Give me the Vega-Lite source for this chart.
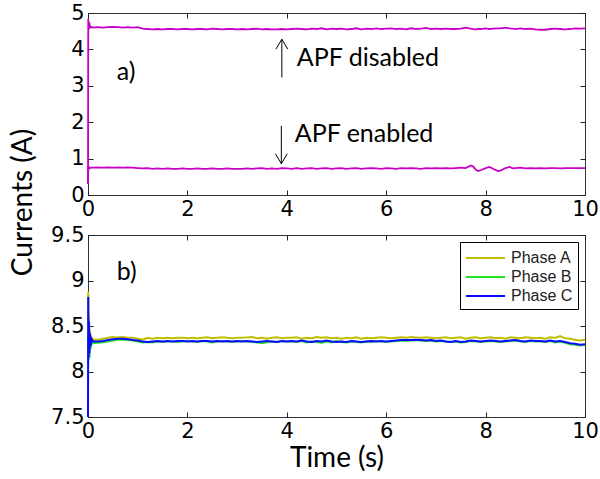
{
  "$schema": "https://vega.github.io/schema/vega-lite/v6.json",
  "padding": {"left": 8, "top": 1, "right": 4, "bottom": 4},
  "background": "white",
  "config": {
    "view": {"stroke": "#333333", "strokeWidth": 1},
    "axis": {
      "grid": false,
      "domain": false,
      "tickColor": "#222222",
      "tickWidth": 1,
      "labelFont": "DejaVu Sans",
      "labelFontSize": 21,
      "labelColor": "#000000",
      "labelPadding": 4,
      "labelFlush": false,
      "titleFont": "Lato",
      "titleFontSize": 28,
      "titleFontWeight": "normal",
      "titleColor": "#000000"
    },
    "legend": {
      "orient": "top-right",
      "offset": 7,
      "padding": 5,
      "strokeColor": "#000000",
      "fillColor": "#ffffff",
      "labelFont": "Liberation Sans",
      "labelFontSize": 16,
      "labelColor": "#222222",
      "symbolType": "M-1,0H2.9",
      "symbolStrokeWidth": 2,
      "symbolSize": 400,
      "rowPadding": 0,
      "labelOffset": 24
    }
  },
  "datasets": {
    "top": [
      {"t":0,"d":0.3,"e":0.3},{"t":0.005,"d":4.85,"e":0.78},{"t":0.015,"d":4.55,"e":0.72},{"t":0.025,"d":4.75,"e":0.76},{"t":0.04,"d":4.6,"e":0.74},{"t":0.06,"d":4.62,"e":0.75},
      {"t":0.1,"d":4.60,"e":0.75},{"t":0.2,"d":4.61,"e":0.76},{"t":0.3,"d":4.60,"e":0.75},{"t":0.4,"d":4.61,"e":0.76},{"t":0.5,"d":4.62,"e":0.75},{"t":0.6,"d":4.61,"e":0.76},{"t":0.7,"d":4.60,"e":0.75},{"t":0.8,"d":4.61,"e":0.76},{"t":0.9,"d":4.60,"e":0.75},{"t":1.0,"d":4.61,"e":0.74},
      {"t":1.1,"d":4.57,"e":0.73},{"t":1.2,"d":4.56,"e":0.74},{"t":1.3,"d":4.55,"e":0.72},{"t":1.4,"d":4.56,"e":0.73},{"t":1.5,"d":4.55,"e":0.72},{"t":1.6,"d":4.56,"e":0.73},{"t":1.7,"d":4.56,"e":0.72},{"t":1.8,"d":4.55,"e":0.72},{"t":1.9,"d":4.56,"e":0.73},{"t":2.0,"d":4.56,"e":0.72},
      {"t":2.1,"d":4.55,"e":0.72},{"t":2.2,"d":4.56,"e":0.73},{"t":2.3,"d":4.56,"e":0.72},{"t":2.4,"d":4.55,"e":0.72},{"t":2.5,"d":4.57,"e":0.73},{"t":2.6,"d":4.56,"e":0.72},{"t":2.7,"d":4.55,"e":0.72},{"t":2.8,"d":4.56,"e":0.73},{"t":2.9,"d":4.56,"e":0.72},{"t":3.0,"d":4.55,"e":0.72},
      {"t":3.1,"d":4.56,"e":0.72},{"t":3.2,"d":4.55,"e":0.73},{"t":3.3,"d":4.56,"e":0.72},{"t":3.4,"d":4.57,"e":0.73},{"t":3.5,"d":4.55,"e":0.74},{"t":3.6,"d":4.56,"e":0.72},{"t":3.7,"d":4.55,"e":0.73},{"t":3.8,"d":4.55,"e":0.72},{"t":3.9,"d":4.56,"e":0.74},{"t":4.0,"d":4.55,"e":0.73},
      {"t":4.1,"d":4.56,"e":0.72},{"t":4.2,"d":4.57,"e":0.74},{"t":4.3,"d":4.56,"e":0.72},{"t":4.4,"d":4.55,"e":0.73},{"t":4.5,"d":4.57,"e":0.74},{"t":4.6,"d":4.56,"e":0.72},{"t":4.7,"d":4.58,"e":0.73},{"t":4.8,"d":4.55,"e":0.74},{"t":4.9,"d":4.57,"e":0.72},{"t":5.0,"d":4.56,"e":0.73},
      {"t":5.1,"d":4.57,"e":0.74},{"t":5.2,"d":4.55,"e":0.72},{"t":5.3,"d":4.56,"e":0.73},{"t":5.4,"d":4.58,"e":0.74},{"t":5.5,"d":4.55,"e":0.72},{"t":5.6,"d":4.57,"e":0.73},{"t":5.7,"d":4.56,"e":0.74},{"t":5.8,"d":4.58,"e":0.73},{"t":5.9,"d":4.56,"e":0.72},{"t":6.0,"d":4.57,"e":0.74},
      {"t":6.1,"d":4.58,"e":0.73},{"t":6.2,"d":4.56,"e":0.72},{"t":6.3,"d":4.57,"e":0.74},{"t":6.4,"d":4.55,"e":0.73},{"t":6.5,"d":4.58,"e":0.74},{"t":6.6,"d":4.56,"e":0.73},{"t":6.7,"d":4.57,"e":0.72},{"t":6.8,"d":4.59,"e":0.74},{"t":6.9,"d":4.56,"e":0.73},{"t":7.0,"d":4.57,"e":0.74},
      {"t":7.1,"d":4.56,"e":0.73},{"t":7.2,"d":4.57,"e":0.74},{"t":7.3,"d":4.56,"e":0.73},{"t":7.4,"d":4.56,"e":0.74},{"t":7.5,"d":4.57,"e":0.75},{"t":7.6,"d":4.60,"e":0.74},{"t":7.7,"d":4.57,"e":0.81},{"t":7.75,"d":4.56,"e":0.78},{"t":7.8,"d":4.55,"e":0.70},{"t":7.85,"d":4.56,"e":0.66},{"t":7.9,"d":4.56,"e":0.68},{"t":8.0,"d":4.58,"e":0.74},
      {"t":8.08,"d":4.56,"e":0.77},{"t":8.15,"d":4.57,"e":0.72},{"t":8.25,"d":4.58,"e":0.66},{"t":8.3,"d":4.58,"e":0.67},{"t":8.4,"d":4.60,"e":0.74},{"t":8.48,"d":4.58,"e":0.77},{"t":8.55,"d":4.57,"e":0.73},{"t":8.6,"d":4.56,"e":0.74},{"t":8.7,"d":4.58,"e":0.75},{"t":8.8,"d":4.56,"e":0.73},{"t":8.9,"d":4.57,"e":0.74},{"t":9.0,"d":4.55,"e":0.73},
      {"t":9.1,"d":4.54,"e":0.74},{"t":9.2,"d":4.54,"e":0.73},{"t":9.3,"d":4.56,"e":0.74},{"t":9.4,"d":4.57,"e":0.74},{"t":9.5,"d":4.56,"e":0.73},{"t":9.6,"d":4.55,"e":0.74},{"t":9.7,"d":4.56,"e":0.74},{"t":9.8,"d":4.58,"e":0.74},{"t":9.9,"d":4.57,"e":0.74},{"t":10.0,"d":4.58,"e":0.74}
    ],
    "bot": [
      {"t":0,"Phase A":8.5,"Phase B":8.2,"Phase C":7.5},{"t":0.005,"Phase A":8.88,"Phase B":8.45,"Phase C":8.82},{"t":0.012,"Phase A":8.55,"Phase B":8.12,"Phase C":8.15},{"t":0.02,"Phase A":8.6,"Phase B":8.4,"Phase C":8.55},{"t":0.03,"Phase A":8.38,"Phase B":8.15,"Phase C":8.2},{"t":0.04,"Phase A":8.45,"Phase B":8.38,"Phase C":8.42},{"t":0.055,"Phase A":8.35,"Phase B":8.25,"Phase C":8.28},{"t":0.07,"Phase A":8.38,"Phase B":8.32,"Phase C":8.36},
      {"t":0.1,"Phase A":8.35,"Phase B":8.31,"Phase C":8.33},{"t":0.2,"Phase A":8.35,"Phase B":8.315,"Phase C":8.33},{"t":0.3,"Phase A":8.36,"Phase B":8.32,"Phase C":8.335},{"t":0.4,"Phase A":8.37,"Phase B":8.33,"Phase C":8.345},{"t":0.5,"Phase A":8.38,"Phase B":8.34,"Phase C":8.355},{"t":0.6,"Phase A":8.375,"Phase B":8.35,"Phase C":8.36},{"t":0.7,"Phase A":8.38,"Phase B":8.35,"Phase C":8.36},{"t":0.8,"Phase A":8.37,"Phase B":8.345,"Phase C":8.355},{"t":0.9,"Phase A":8.37,"Phase B":8.34,"Phase C":8.345},{"t":1.0,"Phase A":8.36,"Phase B":8.33,"Phase C":8.34},
      {"t":1.1,"Phase A":8.35,"Phase B":8.32,"Phase C":8.33},{"t":1.2,"Phase A":8.37,"Phase B":8.325,"Phase C":8.325},{"t":1.3,"Phase A":8.36,"Phase B":8.32,"Phase C":8.33},{"t":1.4,"Phase A":8.37,"Phase B":8.33,"Phase C":8.335},{"t":1.5,"Phase A":8.365,"Phase B":8.325,"Phase C":8.33},{"t":1.6,"Phase A":8.37,"Phase B":8.33,"Phase C":8.335},{"t":1.7,"Phase A":8.365,"Phase B":8.33,"Phase C":8.33},{"t":1.8,"Phase A":8.37,"Phase B":8.325,"Phase C":8.335},{"t":1.9,"Phase A":8.37,"Phase B":8.33,"Phase C":8.335},{"t":2.0,"Phase A":8.365,"Phase B":8.335,"Phase C":8.33},
      {"t":2.1,"Phase A":8.37,"Phase B":8.33,"Phase C":8.335},{"t":2.2,"Phase A":8.365,"Phase B":8.325,"Phase C":8.33},{"t":2.3,"Phase A":8.37,"Phase B":8.335,"Phase C":8.335},{"t":2.4,"Phase A":8.375,"Phase B":8.33,"Phase C":8.335},{"t":2.5,"Phase A":8.365,"Phase B":8.32,"Phase C":8.33},{"t":2.6,"Phase A":8.37,"Phase B":8.33,"Phase C":8.335},{"t":2.7,"Phase A":8.375,"Phase B":8.335,"Phase C":8.33},{"t":2.8,"Phase A":8.37,"Phase B":8.33,"Phase C":8.335},{"t":2.9,"Phase A":8.365,"Phase B":8.325,"Phase C":8.33},{"t":3.0,"Phase A":8.37,"Phase B":8.33,"Phase C":8.335},
      {"t":3.1,"Phase A":8.37,"Phase B":8.335,"Phase C":8.33},{"t":3.2,"Phase A":8.375,"Phase B":8.33,"Phase C":8.335},{"t":3.3,"Phase A":8.38,"Phase B":8.325,"Phase C":8.33},{"t":3.4,"Phase A":8.365,"Phase B":8.32,"Phase C":8.325},{"t":3.5,"Phase A":8.37,"Phase B":8.31,"Phase C":8.33},{"t":3.6,"Phase A":8.36,"Phase B":8.32,"Phase C":8.335},{"t":3.7,"Phase A":8.37,"Phase B":8.33,"Phase C":8.33},{"t":3.8,"Phase A":8.375,"Phase B":8.325,"Phase C":8.325},{"t":3.9,"Phase A":8.365,"Phase B":8.335,"Phase C":8.335},{"t":4.0,"Phase A":8.37,"Phase B":8.33,"Phase C":8.33},
      {"t":4.1,"Phase A":8.37,"Phase B":8.33,"Phase C":8.335},{"t":4.2,"Phase A":8.375,"Phase B":8.325,"Phase C":8.33},{"t":4.3,"Phase A":8.36,"Phase B":8.335,"Phase C":8.34},{"t":4.4,"Phase A":8.37,"Phase B":8.32,"Phase C":8.33},{"t":4.5,"Phase A":8.365,"Phase B":8.33,"Phase C":8.325},{"t":4.6,"Phase A":8.38,"Phase B":8.325,"Phase C":8.335},{"t":4.7,"Phase A":8.37,"Phase B":8.315,"Phase C":8.33},{"t":4.8,"Phase A":8.375,"Phase B":8.33,"Phase C":8.34},{"t":4.9,"Phase A":8.365,"Phase B":8.32,"Phase C":8.33},{"t":5.0,"Phase A":8.37,"Phase B":8.335,"Phase C":8.325},
      {"t":5.1,"Phase A":8.36,"Phase B":8.325,"Phase C":8.33},{"t":5.2,"Phase A":8.37,"Phase B":8.32,"Phase C":8.325},{"t":5.3,"Phase A":8.365,"Phase B":8.33,"Phase C":8.335},{"t":5.4,"Phase A":8.375,"Phase B":8.325,"Phase C":8.33},{"t":5.5,"Phase A":8.36,"Phase B":8.32,"Phase C":8.325},{"t":5.6,"Phase A":8.37,"Phase B":8.33,"Phase C":8.33},{"t":5.7,"Phase A":8.365,"Phase B":8.325,"Phase C":8.335},{"t":5.8,"Phase A":8.37,"Phase B":8.335,"Phase C":8.33},{"t":5.9,"Phase A":8.375,"Phase B":8.33,"Phase C":8.335},{"t":6.0,"Phase A":8.37,"Phase B":8.325,"Phase C":8.33},
      {"t":6.1,"Phase A":8.365,"Phase B":8.33,"Phase C":8.335},{"t":6.2,"Phase A":8.37,"Phase B":8.335,"Phase C":8.34},{"t":6.3,"Phase A":8.375,"Phase B":8.34,"Phase C":8.345},{"t":6.4,"Phase A":8.37,"Phase B":8.335,"Phase C":8.345},{"t":6.5,"Phase A":8.38,"Phase B":8.34,"Phase C":8.345},{"t":6.6,"Phase A":8.375,"Phase B":8.345,"Phase C":8.35},{"t":6.7,"Phase A":8.37,"Phase B":8.34,"Phase C":8.345},{"t":6.8,"Phase A":8.375,"Phase B":8.335,"Phase C":8.34},{"t":6.9,"Phase A":8.37,"Phase B":8.34,"Phase C":8.345},{"t":7.0,"Phase A":8.365,"Phase B":8.33,"Phase C":8.335},
      {"t":7.1,"Phase A":8.37,"Phase B":8.335,"Phase C":8.34},{"t":7.2,"Phase A":8.375,"Phase B":8.33,"Phase C":8.33},{"t":7.3,"Phase A":8.365,"Phase B":8.325,"Phase C":8.325},{"t":7.4,"Phase A":8.37,"Phase B":8.33,"Phase C":8.335},{"t":7.5,"Phase A":8.375,"Phase B":8.32,"Phase C":8.325},{"t":7.6,"Phase A":8.36,"Phase B":8.325,"Phase C":8.33},{"t":7.7,"Phase A":8.37,"Phase B":8.335,"Phase C":8.34},{"t":7.8,"Phase A":8.375,"Phase B":8.33,"Phase C":8.335},{"t":7.9,"Phase A":8.365,"Phase B":8.325,"Phase C":8.33},{"t":8.0,"Phase A":8.37,"Phase B":8.33,"Phase C":8.335},
      {"t":8.1,"Phase A":8.375,"Phase B":8.335,"Phase C":8.34},{"t":8.2,"Phase A":8.365,"Phase B":8.33,"Phase C":8.335},{"t":8.3,"Phase A":8.37,"Phase B":8.325,"Phase C":8.33},{"t":8.4,"Phase A":8.36,"Phase B":8.33,"Phase C":8.335},{"t":8.5,"Phase A":8.375,"Phase B":8.335,"Phase C":8.34},{"t":8.6,"Phase A":8.37,"Phase B":8.34,"Phase C":8.345},{"t":8.7,"Phase A":8.365,"Phase B":8.33,"Phase C":8.335},{"t":8.8,"Phase A":8.375,"Phase B":8.325,"Phase C":8.33},{"t":8.9,"Phase A":8.37,"Phase B":8.335,"Phase C":8.34},{"t":9.0,"Phase A":8.365,"Phase B":8.33,"Phase C":8.335},
      {"t":9.1,"Phase A":8.37,"Phase B":8.33,"Phase C":8.335},{"t":9.2,"Phase A":8.36,"Phase B":8.325,"Phase C":8.33},{"t":9.3,"Phase A":8.375,"Phase B":8.335,"Phase C":8.34},{"t":9.4,"Phase A":8.37,"Phase B":8.32,"Phase C":8.33},{"t":9.5,"Phase A":8.39,"Phase B":8.33,"Phase C":8.335},{"t":9.6,"Phase A":8.365,"Phase B":8.315,"Phase C":8.325},{"t":9.7,"Phase A":8.36,"Phase B":8.30,"Phase C":8.31},{"t":9.8,"Phase A":8.35,"Phase B":8.295,"Phase C":8.305},{"t":9.9,"Phase A":8.34,"Phase B":8.285,"Phase C":8.295},{"t":10.0,"Phase A":8.35,"Phase B":8.29,"Phase C":8.30}
    ],
    "notesTop": [
      {"x":0.58,"y":3.38,"label":"a)"},
      {"x":4.2,"y":3.77,"label":"APF disabled"},
      {"x":4.16,"y":1.68,"label":"APF enabled"}
    ],
    "notesBot": [
      {"x":0.58,"y":9.09,"label":"b)"}
    ],
    "arrows": [
      {"x":3.9,"y0":3.23,"y1":4.28,"dir":"up"},
      {"x":3.89,"y0":1.90,"y1":0.86,"dir":"down"}
    ]
  },
  "resolve": {"legend": {"color": "independent"}},
  "vconcat": [
    {
      "width": 497,
      "height": 182,
      "resolve": {"axis": {"x": "independent", "y": "independent"}},
      "layer": [
        {
          "data": {"name": "top"},
          "transform": [{"fold": ["d", "e"], "as": ["s", "v"]}],
          "mark": {"type": "line", "color": "#c800c8", "strokeWidth": 1.8},
          "encoding": {
            "x": {"field": "t", "type": "quantitative", "scale": {"domain": [0, 10], "nice": false},
                  "axis": {"orient": "bottom", "values": [0, 2, 4, 6, 8, 10], "title": null, "ticks": false, "labelPadding": 3}},
            "y": {"field": "v", "type": "quantitative", "scale": {"domain": [0, 5], "nice": false},
                  "axis": {"orient": "left", "values": [0, 1, 2, 3, 4, 5], "ticks": false, "title": "Currents (A)",
                           "titleX": -57, "titleY": 189, "titleAngle": -90, "titleAlign": "center", "titleBaseline": "alphabetic"}},
            "detail": {"field": "s", "type": "nominal"}
          }
        },
        {
          "data": {"name": "notesTop"},
          "mark": {"type": "text", "font": "Lato", "fontSize": 25, "align": "left", "baseline": "middle", "color": "#000000"},
          "encoding": {
            "x": {"field": "x", "type": "quantitative",
                  "axis": {"orient": "top", "values": [0, 2, 4, 6, 8, 10], "labels": false, "title": null, "offset": -5, "tickSize": 5}},
            "y": {"field": "y", "type": "quantitative",
                  "axis": {"orient": "right", "values": [0, 1, 2, 3, 4, 5], "labels": false, "title": null, "offset": -5, "tickSize": 5}},
            "text": {"field": "label"}
          }
        },
        {
          "data": {"name": "arrows"},
          "mark": {"type": "rule", "color": "#000000", "strokeWidth": 1},
          "encoding": {
            "x": {"field": "x", "type": "quantitative",
                  "axis": {"orient": "bottom", "values": [0, 2, 4, 6, 8, 10], "labels": false, "title": null, "offset": -5, "tickSize": 5}},
            "y": {"field": "y0", "type": "quantitative",
                  "axis": {"orient": "left", "values": [0, 1, 2, 3, 4, 5], "labels": false, "title": null, "offset": -5, "tickSize": 5}},
            "y2": {"field": "y1"}
          }
        },
        {
          "data": {"name": "arrows"},
          "transform": [{"filter": "datum.dir == 'up'"}],
          "mark": {"type": "point", "shape": "M-0.6,1L0,0L0.6,1", "size": 400, "filled": false, "color": "#000000", "strokeWidth": 1, "opacity": 1},
          "encoding": {
            "x": {"field": "x", "type": "quantitative", "axis": null},
            "y": {"field": "y1", "type": "quantitative", "axis": null}
          }
        },
        {
          "data": {"name": "arrows"},
          "transform": [{"filter": "datum.dir == 'down'"}],
          "mark": {"type": "point", "shape": "M-0.6,-1L0,0L0.6,-1", "size": 400, "filled": false, "color": "#000000", "strokeWidth": 1, "opacity": 1},
          "encoding": {
            "x": {"field": "x", "type": "quantitative", "axis": null},
            "y": {"field": "y1", "type": "quantitative", "axis": null}
          }
        }
      ]
    },
    {
      "width": 497,
      "height": 182,
      "resolve": {"axis": {"x": "independent", "y": "independent"}},
      "layer": [
        {
          "data": {"name": "bot"},
          "transform": [{"fold": ["Phase A", "Phase B", "Phase C"], "as": ["phase", "v"]}],
          "mark": {"type": "line", "strokeWidth": 2},
          "encoding": {
            "x": {"field": "t", "type": "quantitative", "scale": {"domain": [0, 10], "nice": false},
                  "axis": {"orient": "bottom", "values": [0, 2, 4, 6, 8, 10], "ticks": false, "title": "Time (s)", "labelPadding": 3, "titlePadding": 3}},
            "y": {"field": "v", "type": "quantitative", "scale": {"domain": [7.5, 9.5], "nice": false, "zero": false},
                  "axis": {"orient": "left", "values": [7.5, 8, 8.5, 9, 9.5], "ticks": false, "format": "~f", "title": null}},
            "color": {"field": "phase", "type": "nominal",
                      "scale": {"domain": ["Phase A", "Phase B", "Phase C"], "range": ["#bfbf00", "#22e622", "#0a0aff"]},
                      "legend": {"title": null}}
          }
        },
        {
          "data": {"name": "notesBot"},
          "mark": {"type": "text", "font": "Lato", "fontSize": 25, "align": "left", "baseline": "middle", "color": "#000000"},
          "encoding": {
            "x": {"field": "x", "type": "quantitative",
                  "axis": {"orient": "top", "values": [0, 2, 4, 6, 8, 10], "labels": false, "title": null, "offset": -5, "tickSize": 5}},
            "y": {"field": "y", "type": "quantitative",
                  "axis": {"orient": "right", "values": [7.5, 8, 8.5, 9, 9.5], "labels": false, "title": null, "offset": -5, "tickSize": 5}},
            "text": {"field": "label"}
          }
        },
        {
          "data": {"name": "notesBot"},
          "mark": {"type": "point", "opacity": 0},
          "encoding": {
            "x": {"field": "x", "type": "quantitative",
                  "axis": {"orient": "bottom", "values": [0, 2, 4, 6, 8, 10], "labels": false, "title": null, "offset": -5, "tickSize": 5}},
            "y": {"field": "y", "type": "quantitative",
                  "axis": {"orient": "left", "values": [7.5, 8, 8.5, 9, 9.5], "labels": false, "title": null, "offset": -5, "tickSize": 5}}
          }
        }
      ]
    }
  ],
  "spacing": 40,
  "bounds": "flush"
}
